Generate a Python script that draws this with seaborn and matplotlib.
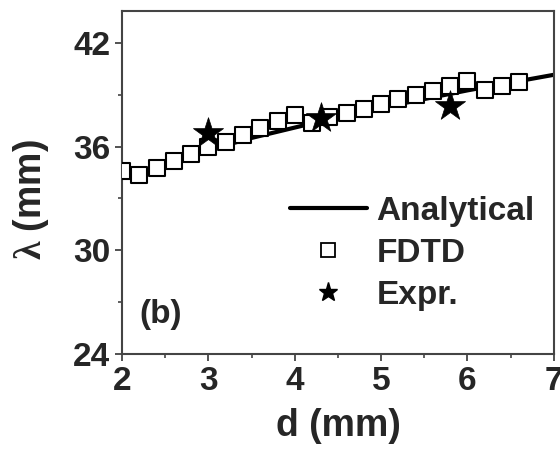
import numpy as np
import pandas as pd
import matplotlib
matplotlib.use("Agg")
import matplotlib.pyplot as plt
from matplotlib.ticker import MultipleLocator
from matplotlib.lines import Line2D
import seaborn as sns

# Analytical dispersion curve
d_analytical = [2.0, 2.5, 3.0, 3.5, 4.0, 4.5, 5.0, 5.5, 6.0, 6.5, 7.0]
lam_analytical = [34.2, 35.0, 35.8, 36.5, 37.1, 37.7, 38.25, 38.75, 39.25, 39.7, 40.15]

# FDTD simulation results
d_fdtd = [2.0, 2.2, 2.4, 2.6, 2.8, 3.0, 3.2, 3.4, 3.6, 3.8, 4.0, 4.2,
          4.4, 4.6, 4.8, 5.0, 5.2, 5.4, 5.6, 5.8, 6.0, 6.2, 6.4, 6.6]
lam_fdtd = [34.6, 34.35, 34.77, 35.18, 35.6, 35.99, 36.28, 36.67, 37.09, 37.48, 37.83, 37.35,
            37.69, 37.92, 38.2, 38.46, 38.75, 39.0, 39.23, 39.52, 39.8, 39.3, 39.5, 39.76]

# Measured values
d_expr = [3.0, 4.3, 5.8]
lam_expr = [36.77, 37.63, 38.35]

x_ticks = [2, 3, 4, 5, 6, 7]
y_ticks = [24, 30, 36, 42]

sns.set_theme(style="ticks")
plt.rcParams["font.family"] = ["Liberation Sans", "DejaVu Sans"]
plt.rcParams["font.weight"] = "bold"
plt.rcParams["mathtext.fontset"] = "custom"
plt.rcParams["mathtext.rm"] = "Liberation Serif"

fig = plt.figure(figsize=(5.6, 4.5), dpi=100)
ax = fig.add_axes([0.218, 0.213, 0.771, 0.763])

df_a = pd.DataFrame({"d": d_analytical, "lam": lam_analytical})
df_f = pd.DataFrame({"d": d_fdtd, "lam": lam_fdtd})
df_e = pd.DataFrame({"d": d_expr, "lam": lam_expr})

sns.lineplot(data=df_a, x="d", y="lam", ax=ax, color="black", linewidth=3.0,
             zorder=2, legend=False)
sns.scatterplot(data=df_f, x="d", y="lam", ax=ax, marker="s", s=120,
                facecolor="white", edgecolor="black", linewidth=1.5, zorder=3,
                legend=False)
sns.scatterplot(data=df_e, x="d", y="lam", ax=ax, marker="*", s=520,
                color="black", edgecolor="black", linewidth=0.5, zorder=4,
                legend=False)

ax.set_xlim(2, 7)
ax.set_ylim(24, 43.85)
ax.set_xticks(x_ticks)
ax.set_yticks(y_ticks)
ax.xaxis.set_minor_locator(MultipleLocator(0.5))
ax.yaxis.set_minor_locator(MultipleLocator(3))
ax.tick_params(which="major", direction="out", length=5, width=1.3,
               labelsize=24, pad=3.6, color="#444444")
ax.tick_params(which="minor", direction="out", length=3, width=1.2, color="#444444")
for lab in ax.get_xticklabels() + ax.get_yticklabels():
    lab.set_fontweight("bold")

for sp in ax.spines.values():
    sp.set_linewidth(1.5)
    sp.set_color("#444444")
    sp.set_visible(True)

ax.set_xlabel("d (mm)", fontsize=27, fontweight="bold", labelpad=8)
ax.set_ylabel(r"$\mathrm{\lambda}$ (mm)", fontsize=27, fontweight="bold")
ax.yaxis.set_label_coords(-0.165, 0.45)

ax.text(2.2, 25.4, "(b)", fontsize=24, fontweight="bold", ha="left", va="bottom")

handles = [
    Line2D([], [], color="black", linewidth=3.0),
    Line2D([], [], marker="s", linestyle="none", markersize=10,
           markerfacecolor="white", markeredgecolor="black", markeredgewidth=1.3),
    Line2D([], [], marker="*", linestyle="none", markersize=14, color="black"),
]
leg = ax.legend(handles, ["Analytical", "FDTD", "Expr."], loc="upper left",
                bbox_to_anchor=(0.35, 0.51), frameon=False, fontsize=24,
                handlelength=2.3, handletextpad=0.3, labelspacing=0.33,
                borderpad=0.0)
for t in leg.get_texts():
    t.set_fontweight("bold")

fig.savefig("out.png", dpi=100)
